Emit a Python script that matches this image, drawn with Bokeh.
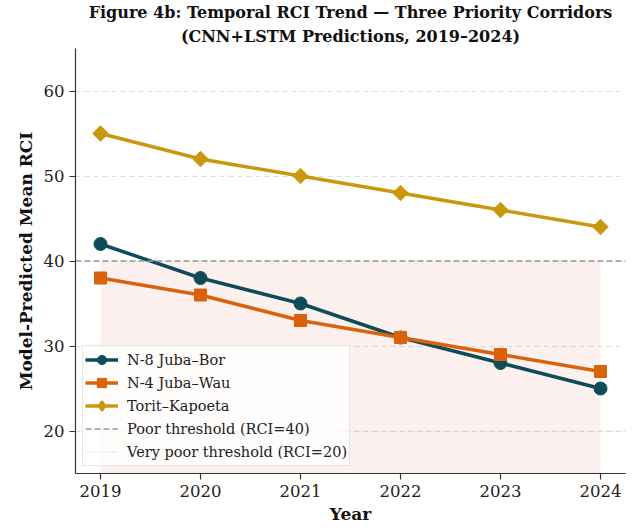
import numpy as np
from bokeh.plotting import figure
from bokeh.models import Span, Title, Legend, LegendItem, FixedTicker, Range1d
from bokeh.embed import file_html
from bokeh.resources import INLINE

# Model-predicted mean RCI per corridor, 2019-2024
years = [2019, 2020, 2021, 2022, 2023, 2024]
n8_juba_bor = [42, 38, 35, 31, 28, 25]
n4_juba_wau = [38, 36, 33, 31, 29, 27]
torit_kapoeta = [55, 52, 50, 48, 46, 44]

POOR_THRESHOLD = 40
VERY_POOR_THRESHOLD = 20
y_ticks = [20, 30, 40, 50, 60]

FONT = "DejaVu Serif"
C_N8 = "#0f4c5a"
C_N4 = "#d9620b"
C_TK = "#c9980f"

p = figure(
    frame_width=550, frame_height=425,
    min_border_left=75, min_border_right=13, min_border_top=48, min_border_bottom=55,
    x_range=Range1d(2018.75, 2024.25), y_range=Range1d(15, 65),
    output_backend="svg", toolbar_location=None,
)
p.outline_line_color = None

# Two-line title, each line centred over the frame (first added sits closest to the frame)
TITLE_STYLE = dict(align="center", text_font=FONT, text_font_size="16px",
                   text_font_style="bold", text_color="#111111", text_line_height=1.0)
p.title = None
p.add_layout(Title(text="(CNN+LSTM Predictions, 2019–2024)", standoff=6, **TITLE_STYLE), "above")
p.add_layout(Title(text="Figure 4b: Temporal RCI Trend — Three Priority Corridors",
                   standoff=0, **TITLE_STYLE), "above")

# Poor-condition band below the threshold
p.quad(left=years[0], right=years[-1], bottom=0, top=POOR_THRESHOLD,
       fill_color="#e74c3c", fill_alpha=0.08, line_color=None)

POOR_STYLE = dict(line_color="#999999", line_dash="6 3", line_width=1.5)
VPOOR_STYLE = dict(line_color="#cccccc", line_dash="1 2", line_width=1.2)
p.add_layout(Span(location=POOR_THRESHOLD, dimension="width", **POOR_STYLE))
p.add_layout(Span(location=VERY_POOR_THRESHOLD, dimension="width", **VPOOR_STYLE))

items = []
series = [
    ("N-8 Juba–Bor", n8_juba_bor, C_N8, "circle", 13, 0, "circle", 1),
    ("N-4 Juba–Wau", n4_juba_wau, C_N4, "square", 12, 0, "square", 1),
    ("Torit–Kapoeta", torit_kapoeta, C_TK, "square", 11, np.pi / 4, "diamond", 2.5),
]
for label, vals, color, marker, size, angle, key_marker, key_lw in series:
    ln = p.line(years, vals, line_color=color, line_width=3.5)
    p.scatter(years, vals, marker=marker, size=size, angle=angle,
              fill_color=color, line_color=color)
    # legend key marker (not drawn in the frame)
    key = p.scatter([years[0]], [np.nan], marker=key_marker,
                    fill_color=color, line_color=color, line_width=key_lw)
    items.append(LegendItem(label=label, renderers=[ln, key]))

poor = p.line([years[0]], [np.nan], **POOR_STYLE)
vpoor = p.line([years[0]], [np.nan], **VPOOR_STYLE)
items.append(LegendItem(label="Poor threshold (RCI=40)", renderers=[poor]))
items.append(LegendItem(label="Very poor threshold (RCI=20)", renderers=[vpoor]))

legend = Legend(items=items, location=(7, 7), margin=0,
                label_text_font=FONT, label_text_font_size="14.5px", label_text_color="#222222",
                glyph_width=33, glyph_height=23, label_height=20, label_standoff=9,
                spacing=0, padding=2,
                border_line_color="#cccccc", border_line_width=1,
                background_fill_color="white", background_fill_alpha=0.8)
p.add_layout(legend, "center")

# Axes
for ax in (p.xaxis[0], p.yaxis[0]):
    ax.axis_line_color = "#333333"
    ax.axis_line_width = 1.2
    ax.major_tick_line_color = "#333333"
    ax.major_tick_line_width = 1.2
    ax.major_tick_out = 6
    ax.major_tick_in = 0
    ax.minor_tick_line_color = None
    ax.major_label_text_font = FONT
    ax.major_label_text_font_size = "16.5px"
    ax.major_label_text_color = "#222222"
    ax.axis_label_text_font = FONT
    ax.axis_label_text_font_size = "17px"
    ax.axis_label_text_font_style = "bold"
    ax.axis_label_text_color = "#111111"

p.xaxis.ticker = FixedTicker(ticks=years)
p.yaxis.ticker = FixedTicker(ticks=y_ticks)
p.xaxis.axis_label = "Year"
p.yaxis.axis_label = "Model-Predicted Mean RCI"
p.xaxis.major_label_standoff = 5
p.yaxis.major_label_standoff = 5
p.xaxis.axis_label_standoff = 4
p.yaxis.axis_label_standoff = 5

p.xgrid.grid_line_color = None
p.ygrid.grid_line_color = "#dddddd"
p.ygrid.grid_line_dash = "5 4"
p.ygrid.grid_line_width = 1

open("out.html", "w").write(file_html(p, INLINE))
